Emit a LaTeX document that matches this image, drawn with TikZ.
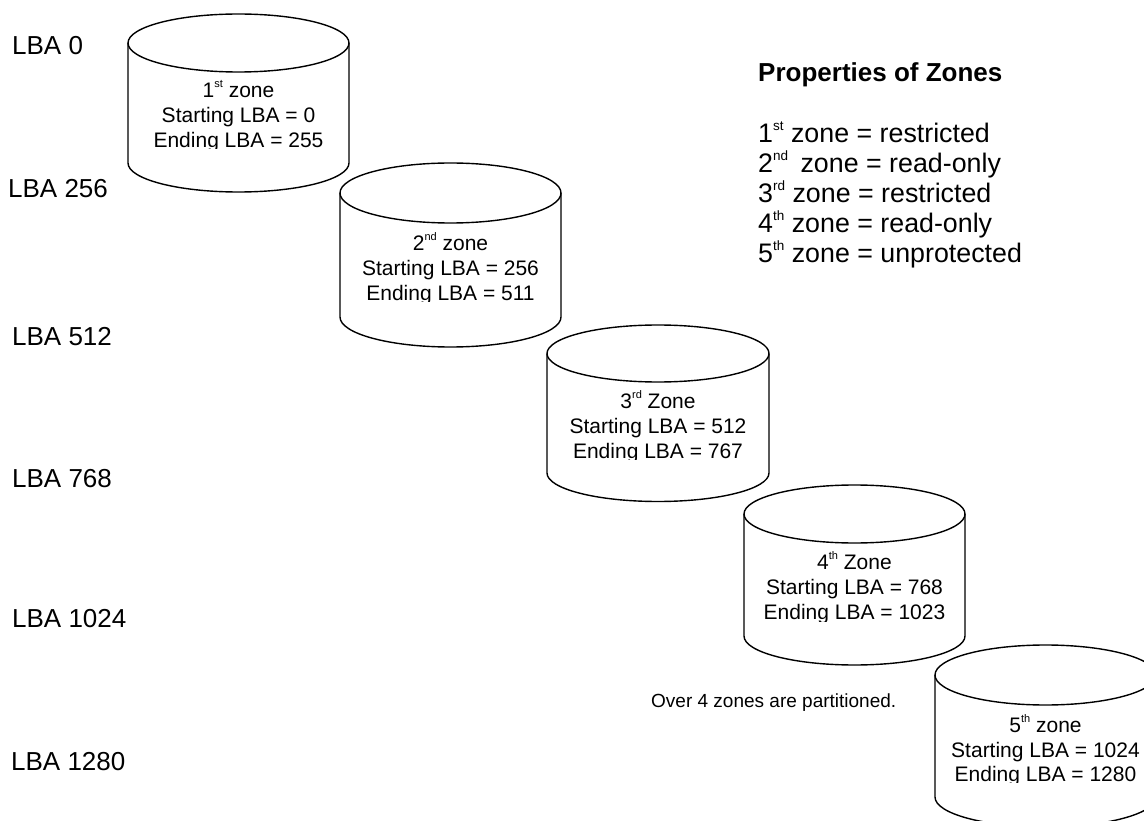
\documentclass[tikz,border=0pt]{standalone}
\usepackage{fontspec}
\setmainfont{Liberation Sans}
\newcommand\zsup[1]{\raisebox{10pt}{\fontsize{11}{11}\selectfont #1}}
\newcommand\psup[1]{\raisebox{12.5pt}{\fontsize{13.5}{13.5}\selectfont #1}}
\begin{document}
\begin{tikzpicture}[x=1pt,y=1pt,
  cyl/.style={draw=black,line width=1.4pt,fill=white},
  lba/.style={anchor=base west,inner sep=0pt,font=\fontsize{26}{30}\selectfont},
  zonetext/.style={anchor=base,inner sep=0pt,align=center,font=\fontsize{21}{25}\selectfont},
  proptext/.style={anchor=base west,inner sep=0pt,align=left,font=\fontsize{26.8}{30}\selectfont}]
\useasboundingbox (0,0) rectangle (1144,-821);
\clip (0,0) rectangle (1144,-821);
% cylinders: cx, top center y, bottom center y, rx, ry
\foreach \cx/\ct/\cb/\rx/\ry in {238.5/43/163/110.5/29, 450.5/193/317/110.5/30, 658/353.5/473/111/28.5, 854.5/514/636/110.5/29, 1045.5/675/797/110.5/30}{
  \draw[cyl] (\cx-\rx,-\ct) -- (\cx-\rx,-\cb) arc[start angle=180,end angle=360,x radius=\rx,y radius=\ry] -- (\cx+\rx,-\ct);
  \draw[cyl] (\cx,-\ct) ellipse [x radius=\rx,y radius=\ry];
}
% zone texts, clipped at their last baseline (node base = last line)
\begin{scope}\clip (128,-74) rectangle (350,-149);
\node[zonetext] (z1) at (238.5,-148) {1\zsup{st} zone\\Starting LBA = 0\\Ending LBA = 255};
\end{scope}
\begin{scope}\clip (340,-225) rectangle (561,-302);
\node[zonetext] (z2) at (450.5,-300.5) {2\zsup{nd} zone\\Starting LBA = 256\\Ending LBA = 511};
\end{scope}
\begin{scope}\clip (547,-383) rectangle (769,-459.5);
\node[zonetext] (z3) at (658,-458) {3\zsup{rd} Zone\\Starting LBA = 512\\Ending LBA = 767};
\end{scope}
\begin{scope}\clip (744,-544) rectangle (965,-621);
\node[zonetext] (z4) at (854.5,-619.5) {4\zsup{th} Zone\\Starting LBA = 768\\Ending LBA = 1023};
\end{scope}
\begin{scope}\clip (935,-706) rectangle (1144,-782.5);
\node[zonetext,font=\fontsize{21}{24.5}\selectfont] (z5) at (1045.5,-781.5) {5\zsup{th} zone\\Starting LBA = 1024\\Ending LBA = 1280};
\end{scope}
% left labels
\node[lba] (l0) at (12,-55) {LBA 0};
\node[lba] (l1) at (8,-198) {LBA 256};
\node[lba] (l2) at (12,-345) {LBA 512};
\node[lba] (l3) at (12,-487) {LBA 768};
\node[lba] (l4) at (12,-627) {LBA 1024};
\node[lba] (l5) at (11,-770) {LBA 1280};
% note
\node[anchor=base west,inner sep=0pt,font=\fontsize{19}{23}\selectfont] (note) at (651,-707) {Over 4 zones are partitioned.};
% properties
\node[anchor=base west,inner sep=0pt,font=\fontsize{26}{30}\selectfont\bfseries] (ptitle) at (758,-81.5) {Properties of Zones};
\node[proptext] (plist) at (758,-263) {1\psup{st} zone = restricted\\2\psup{nd}\hspace{5pt} zone = read-only\\3\psup{rd} zone = restricted\\4\psup{th} zone = read-only\\5\psup{th} zone = unprotected};
\end{tikzpicture}
\end{document}
